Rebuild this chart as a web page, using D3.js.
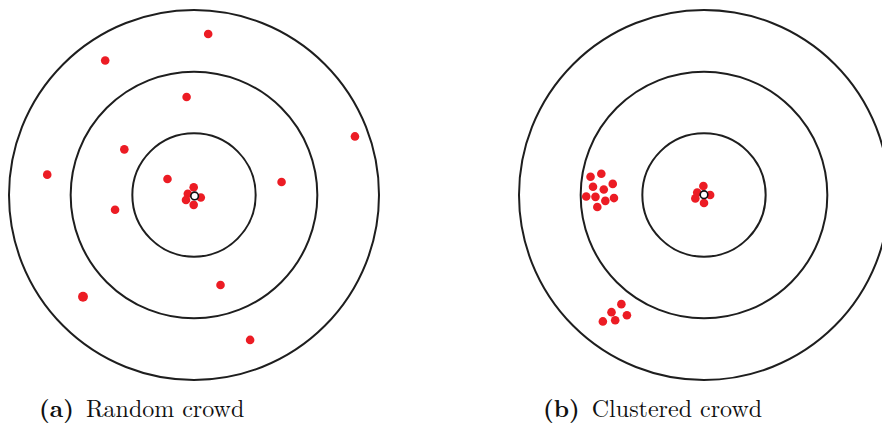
<!DOCTYPE html>
<html>
<head>
<meta charset="utf-8">
<script src="https://cdn.jsdelivr.net/npm/d3@7"></script>
<style>
  html, body { margin: 0; padding: 0; background: #fff; }
  svg { display: block; }
</style>
</head>
<body>
<svg id="chart" width="882" height="429"></svg>
<script>
// ---- Data (target units: rings at radius 10, 20, 30) ----
const ringRadii = [10, 20, 30];

const panelLabels = ["(a)", "(b)"];
const panelTitles = ["Random crowd", "Clustered crowd"];

// Panel (a): random crowd
const randomX = [2.3, -14.4, -1.2, 26.1, -11.3, -23.8, -4.3, 14.2, -12.8, -18.0, 4.3, 9.1,
                 -0.05, -1.0, -1.3, 1.1, -0.05];
const randomY = [26.1, 21.8, 15.9, 9.5, 7.4, 3.3, 2.6, 2.1, -2.4, -16.5, -14.6, -23.5,
                 1.25, 0.2, -0.8, -0.4, -1.6];
const randomSize = [1, 1, 1, 1, 1, 1, 1, 1, 1, 1.15, 1, 1, 1, 1, 1, 1, 1];

// Panel (b): clustered crowd
const clusterX = [-18.4, -16.65, -18.0, -14.8, -16.25, -19.1, -17.6, -14.6, -16.0, -17.3,
                  -13.4, -15.0, -12.5, -16.4, -14.4,
                  -0.1, -1.1, -1.4, 1.0, 0.0];
const clusterY = [2.95, 3.45, 1.35, 1.8, 0.9, -0.25, -0.3, -0.5, -0.95, -1.95,
                  -17.7, -19.0, -19.5, -20.5, -20.3,
                  1.45, 0.4, -0.55, 0.0, -1.3];
const clusterSize = clusterX.map(() => 1);

// Observer (white ring) at each target center
const observerX = [0.1, 0.0];
const observerY = [-0.15, 0.05];

// ---- Layout ----
const svg = d3.select("#chart");
const centersPx = [{ cx: 194, cy: 195 }, { cx: 704, cy: 195 }];
const outerPx = 185;
const captionX = [39, 543];
const captionY = 417;

const panels = [
  { xs: randomX, ys: randomY, ss: randomSize },
  { xs: clusterX, ys: clusterY, ss: clusterSize }
];

panels.forEach((p, i) => {
  const c = centersPx[i];
  const x = d3.scaleLinear().domain([-30, 30]).range([c.cx - outerPx, c.cx + outerPx]);
  const y = d3.scaleLinear().domain([-30, 30]).range([c.cy + outerPx, c.cy - outerPx]);
  const r = d3.scaleLinear().domain([0, 30]).range([0, outerPx]);

  const g = svg.append("g");

  g.selectAll("circle.ring").data(ringRadii).join("circle")
    .attr("class", "ring")
    .attr("cx", x(0)).attr("cy", y(0))
    .attr("r", d => r(d))
    .attr("fill", "none")
    .attr("stroke", "#1e1e1e")
    .attr("stroke-width", 2);

  const pts = p.xs.map((v, k) => ({ x: v, y: p.ys[k], s: p.ss[k] }));
  g.selectAll("circle.pt").data(pts).join("circle")
    .attr("class", "pt")
    .attr("cx", d => x(d.x))
    .attr("cy", d => y(d.y))
    .attr("r", d => 4.3 * d.s)
    .attr("fill", "#ec1c24");

  g.append("circle")
    .attr("cx", x(observerX[i])).attr("cy", y(observerY[i]))
    .attr("r", 3.8)
    .attr("fill", "#fff")
    .attr("stroke", "#111")
    .attr("stroke-width", 1.6);

  const t = svg.append("text")
    .attr("x", captionX[i]).attr("y", captionY)
    .attr("font-family", "'Latin Modern Roman', 'DejaVu Serif', serif")
    .attr("font-size", 24)
    .attr("fill", "#111");
  t.append("tspan").attr("font-weight", "bold").text(panelLabels[i]);
  t.append("tspan").attr("dx", 12).text(panelTitles[i]);
});
</script>
</body>
</html>
